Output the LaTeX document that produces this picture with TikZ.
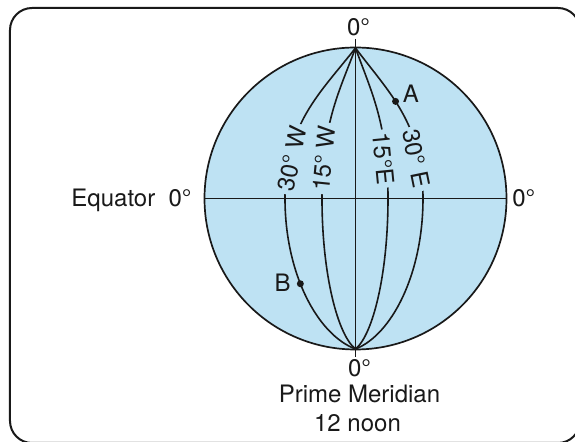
\documentclass[tikz,border=0pt]{standalone}
\usepackage{fontspec}
\setmainfont{TeX Gyre Heros}
\definecolor{globeblue}{RGB}{190,226,243}
\definecolor{inkgray}{RGB}{25,25,25}
\begin{document}
\begin{tikzpicture}[x=0.5pt, y=-0.5pt,
  every node/.style={font=\fontsize{12}{14}\selectfont, text=inkgray},
  meridian/.style={line width=0.8pt, draw=inkgray},
  merlabel/.style={sloped, pos=0.8, fill=globeblue, inner xsep=1.5pt, inner ysep=0.5pt}]

  % 1. 枠と地球の塗り
  \useasboundingbox (0,0) rectangle (575,442);
  \draw[line width=1pt, draw=inkgray, rounded corners=11pt] (10,8) rectangle (580,443);
  \coordinate (O) at (355.5,198.5);
  \fill[globeblue] (O) circle (151);

  % 2. 経線 (北極 N から赤道を通り南極 S へ)
  \coordinate (N) at (355.5,48);
  \coordinate (S) at (355.5,349);
  \coordinate (w30) at (285,198.5);
  \coordinate (w15) at (322,198.5);
  \coordinate (e15) at (388,198.5);
  \coordinate (e30) at (423,198.5);

  \draw[meridian] (N) .. controls +(-35.2,45) and +(0,-75) .. (w30)
    node[merlabel, yshift=-1.5pt] (w30label) {30° W}
    .. controls +(0,76) and +(-37.5,-14) .. (S) coordinate[pos=0.42] (B);
  \draw[meridian] (N) .. controls +(-16.8,45) and +(0,-75) .. (w15)
    node[merlabel] (w15label) {15° W}
    .. controls +(0,76) and +(-17.8,-14) .. (S);
  \draw[meridian] (N) .. controls +(16.2,45) and +(0,-75) .. (e15)
    node[merlabel, yshift=-1.5pt] (e15label) {15°E}
    .. controls +(0,76) and +(17.3,-14) .. (S);
  \draw[meridian] (N) .. controls +(33.8,45) and +(0,-75) .. (e30)
    coordinate[pos=0.42] (A)
    node[merlabel, yshift=-1.5pt] (e30label) {30° E}
    .. controls +(0,76) and +(35.9,-14) .. (S);

  % 3. 本初子午線と赤道
  \coordinate (Ntick) at (355.5,39);
  \coordinate (Stick) at (355.5,357);
  \coordinate (Wend) at (204.5,198.5);
  \coordinate (Eend) at (506.5,198.5);
  \draw[line width=0.8pt, inkgray] (Ntick) -- (Stick);
  \draw[line width=0.9pt, inkgray] (Wend) -- (Eend);
  \draw[line width=0.85pt, inkgray] (O) circle (151);

  % 4. 点 A, B
  \fill[inkgray] (A) circle (3.5);
  \fill[inkgray] (B) circle (3.5);
  \node (Alabel) [anchor=base west, inner sep=0pt] at (402.5,103) {A};
  \node (Blabel) [anchor=base east, inner sep=0pt] at (291,292) {B};

  % 5. 文字
  \node (topzero) [anchor=base, inner sep=0pt] at (358.5,35.5) {0°};
  \node (botzero) [anchor=base, inner sep=0pt] at (359.5,376.5) {0°};
  \node (eqlabel) [anchor=base east, inner sep=0pt] at (192,207) {Equator~~0°};
  \node (eqzero) [anchor=base west, inner sep=0pt] at (512,207) {0°};
  \node (pmlabel) [anchor=base, inner sep=0pt] at (359.5,403) {Prime Meridian};
  \node (noonlabel) [anchor=base, inner sep=0pt] at (357.5,431.5) {12 noon};

\end{tikzpicture}
\end{document}
